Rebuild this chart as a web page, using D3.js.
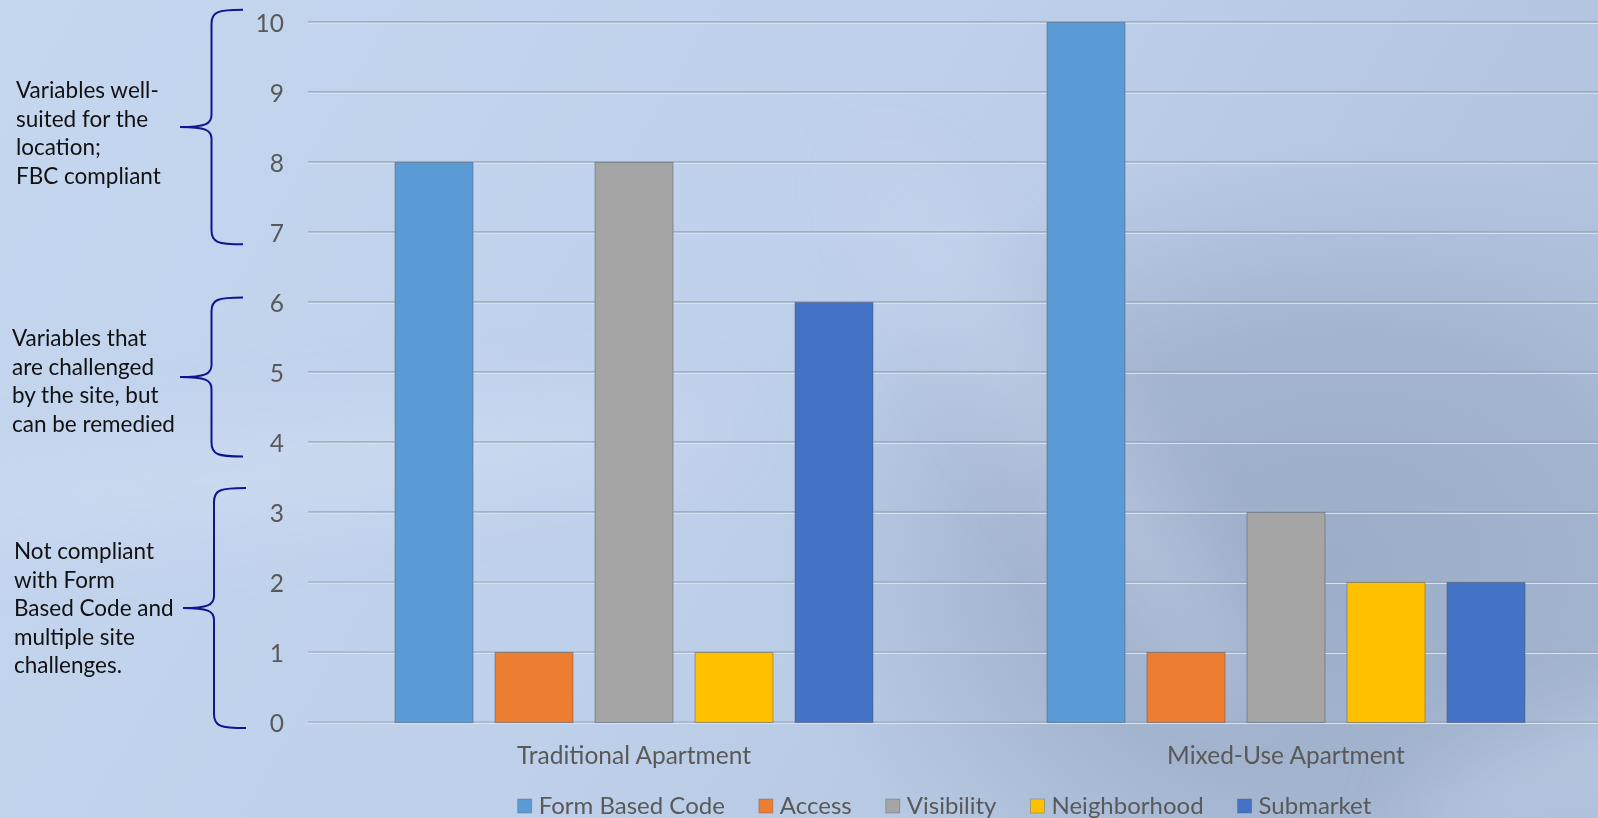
<!DOCTYPE html>
<html>
<head>
<meta charset="utf-8">
<script src="https://cdn.jsdelivr.net/npm/d3@7"></script>
<style>
  html, body { margin: 0; padding: 0; overflow: hidden; }
  svg { display: block; font-family: Lato, "Open Sans", sans-serif; }
</style>
</head>
<body>
<svg id="chart"></svg>
<script>
// chart data
var categories = ["Traditional Apartment", "Mixed-Use Apartment"];
var seriesNames = ["Form Based Code", "Access", "Visibility", "Neighborhood", "Submarket"];
var seriesColors = ["#5B9BD5", "#ED7D31", "#A5A5A5", "#FFC000", "#4472C4"];
var traditionalValues = [8, 1, 8, 1, 6];
var mixedUseValues = [10, 1, 3, 2, 2];
var yTicks = [0, 1, 2, 3, 4, 5, 6, 7, 8, 9, 10];

// side notes, each with the value span its brace covers
var noteLines = [
    ["Variables well-", "suited for the", "location;", "FBC compliant"],
    ["Variables that", "are challenged", "by the site, but", "can be remedied"],
    ["Not compliant", "with Form", "Based Code and", "multiple site", "challenges."]
];
var noteSpans = [[6.83, 10.18], [3.8, 6.07], [-0.08, 3.35]];

var W = 1598, H = 818;
var svg = d3.select("#chart").attr("width", W).attr("height", H);

// background: light blue with a darker patch on the right
var defs = svg.append("defs");
var bg = defs.append("linearGradient").attr("id", "bg")
    .attr("x1", 0).attr("y1", 0).attr("x2", 1).attr("y2", 0.3);
bg.append("stop").attr("offset", 0).attr("stop-color", "#c5d6ef");
bg.append("stop").attr("offset", 0.55).attr("stop-color", "#bfd0ea");
bg.append("stop").attr("offset", 1).attr("stop-color", "#b2c3de");
var dark = defs.append("radialGradient").attr("id", "dark")
    .attr("gradientUnits", "userSpaceOnUse")
    .attr("cx", 1330).attr("cy", 560).attr("r", 560)
    .attr("gradientTransform", "translate(1330 560) scale(1 0.75) translate(-1330 -560)");
dark.append("stop").attr("offset", 0).attr("stop-color", "#9cadc8").attr("stop-opacity", 1);
dark.append("stop").attr("offset", 0.55).attr("stop-color", "#9fb0cb").attr("stop-opacity", 0.8);
dark.append("stop").attr("offset", 1).attr("stop-color", "#a5b6d0").attr("stop-opacity", 0);
var blur = defs.append("filter").attr("id", "soft")
    .attr("x", "-50%").attr("y", "-50%").attr("width", "200%").attr("height", "200%");
blur.append("feGaussianBlur").attr("stdDeviation", 35);

svg.append("rect").attr("width", W).attr("height", H).attr("fill", "url(#bg)");
svg.append("rect").attr("width", W).attr("height", H).attr("fill", "url(#dark)");
// pale streaks like the office theme backdrop
var streaks = svg.append("g").attr("filter", "url(#soft)").attr("fill", "#d6e2f4");
streaks.append("ellipse").attr("cx", 300).attr("cy", 470).attr("rx", 420).attr("ry", 45)
    .attr("transform", "rotate(-6 300 470)").attr("opacity", 0.45);
streaks.append("ellipse").attr("cx", 1060).attr("cy", 430).attr("rx", 55).attr("ry", 330)
    .attr("transform", "rotate(-35 1060 430)").attr("opacity", 0.3);
streaks.append("ellipse").attr("cx", 1560).attr("cy", 770).attr("rx", 160).attr("ry", 50)
    .attr("transform", "rotate(-20 1560 770)").attr("opacity", 0.3);

// scales
var y = d3.scaleLinear().domain([0, 10]).range([722.5, 22.4]);
var x0 = d3.scaleBand().domain(categories).range([308, 1612]).padding(0);
var x1 = d3.scaleBand().domain(seriesNames)
    .range([76, 576]).paddingInner(0.22).paddingOuter(0.11);
var color = d3.scaleOrdinal().domain(seriesNames).range(seriesColors);

// gridlines
var grid = svg.append("g");
grid.selectAll("line.g1").data(yTicks).enter().append("line")
    .attr("class", "g1")
    .attr("x1", 308).attr("x2", W)
    .attr("y1", function(d){ return y(d) - 0.5; })
    .attr("y2", function(d){ return y(d) - 0.5; })
    .attr("stroke", "#9ca3ad").attr("stroke-width", 1.2);
grid.selectAll("line.g2").data(yTicks).enter().append("line")
    .attr("class", "g2")
    .attr("x1", 308).attr("x2", W)
    .attr("y1", function(d){ return y(d) + 1; })
    .attr("y2", function(d){ return y(d) + 1; })
    .attr("stroke", "#dde2e8").attr("stroke-width", 1);

// y axis labels
var yAxis = d3.axisLeft(y).tickValues(yTicks).tickSize(0).tickPadding(0);
var yg = svg.append("g").attr("transform", "translate(284,0)").call(yAxis);
yg.select(".domain").remove();
yg.selectAll("text").attr("fill", "#595959").attr("font-size", 24.5)
    .attr("font-family", "Lato, sans-serif").attr("dy", "0.36em");

// bars
var rows = categories.map(function(c, i){
    var vals = i === 0 ? traditionalValues : mixedUseValues;
    return { cat: c, vals: seriesNames.map(function(s, j){ return { name: s, value: vals[j] }; }) };
});
var groups = svg.append("g").selectAll("g").data(rows).enter().append("g")
    .attr("transform", function(d){ return "translate(" + x0(d.cat) + ",0)"; });
groups.selectAll("rect").data(function(d){ return d.vals; }).enter().append("rect")
    .attr("x", function(d){ return x1(d.name); })
    .attr("y", function(d){ return y(d.value); })
    .attr("width", x1.bandwidth())
    .attr("height", function(d){ return y(0) - y(d.value); })
    .attr("fill", function(d){ return color(d.name); })
    .attr("stroke", "rgba(70,80,100,0.45)").attr("stroke-width", 1);

// category labels
var xAxis = d3.axisBottom(x0).tickSize(0).tickPadding(0);
var xg = svg.append("g").attr("transform", "translate(0,747)").call(xAxis);
xg.select(".domain").remove();
xg.selectAll("text").attr("fill", "#595959").attr("font-size", 24.5)
    .attr("font-family", "Lato, sans-serif").attr("dy", "0.71em");

// legend, centred under the plot
var legend = svg.append("g");
var items = legend.selectAll("g").data(seriesNames).enter().append("g");
items.append("rect").attr("width", 14).attr("height", 14).attr("y", 799)
    .attr("fill", function(d){ return color(d); })
    .attr("stroke", "rgba(70,80,100,0.4)").attr("stroke-width", 0.8);
items.append("text").attr("x", 21).attr("y", 814)
    .attr("fill", "#595959").attr("font-size", 24)
    .text(function(d){ return d; });
var offsets = [], cur = 0;
items.each(function(){
    offsets.push(cur);
    var w = d3.select(this).select("text").node().getComputedTextLength();
    cur += 21 + w + 34;
});
var total = cur - 34;
var startX = 944.5 - total / 2;
items.attr("transform", function(d, i){ return "translate(" + (startX + offsets[i]) + ",0)"; });

// braces and notes
var noteX = [16, 12, 14];
var noteShift = [6, 4, 0];
var braces = svg.append("g").attr("fill", "none").attr("stroke", "#0d1590").attr("stroke-width", 2);
noteSpans.forEach(function(span, i){
    var top = y(span[1]), bot = y(span[0]), mid = (top + bot) / 2;
    var xe = i === 2 ? 246 : 243, xv = i === 2 ? 214 : 211.5, xp = i === 2 ? 183 : 180;
    var p = d3.path();
    p.moveTo(xe, top);
    p.bezierCurveTo(xv + 6, top, xv, top + 2, xv, top + 14);
    p.lineTo(xv, mid - 12);
    p.bezierCurveTo(xv, mid - 3, xv - 6, mid, xp, mid);
    p.bezierCurveTo(xv - 6, mid, xv, mid + 3, xv, mid + 12);
    p.lineTo(xv, bot - 14);
    p.bezierCurveTo(xv, bot - 2, xv + 6, bot, xe, bot);
    braces.append("path").attr("d", p.toString());

    var n = noteLines[i].length, lh = 28.6;
    var t = svg.append("text").attr("fill", "#111").attr("font-size", 22.5)
        .attr("font-family", "Lato, sans-serif");
    noteLines[i].forEach(function(line, k){
        t.append("tspan").attr("x", noteX[i])
            .attr("y", mid + noteShift[i] + (k - (n - 1) / 2) * lh)
            .attr("dy", "0.36em")
            .text(line);
    });
});
</script>
</body>
</html>
